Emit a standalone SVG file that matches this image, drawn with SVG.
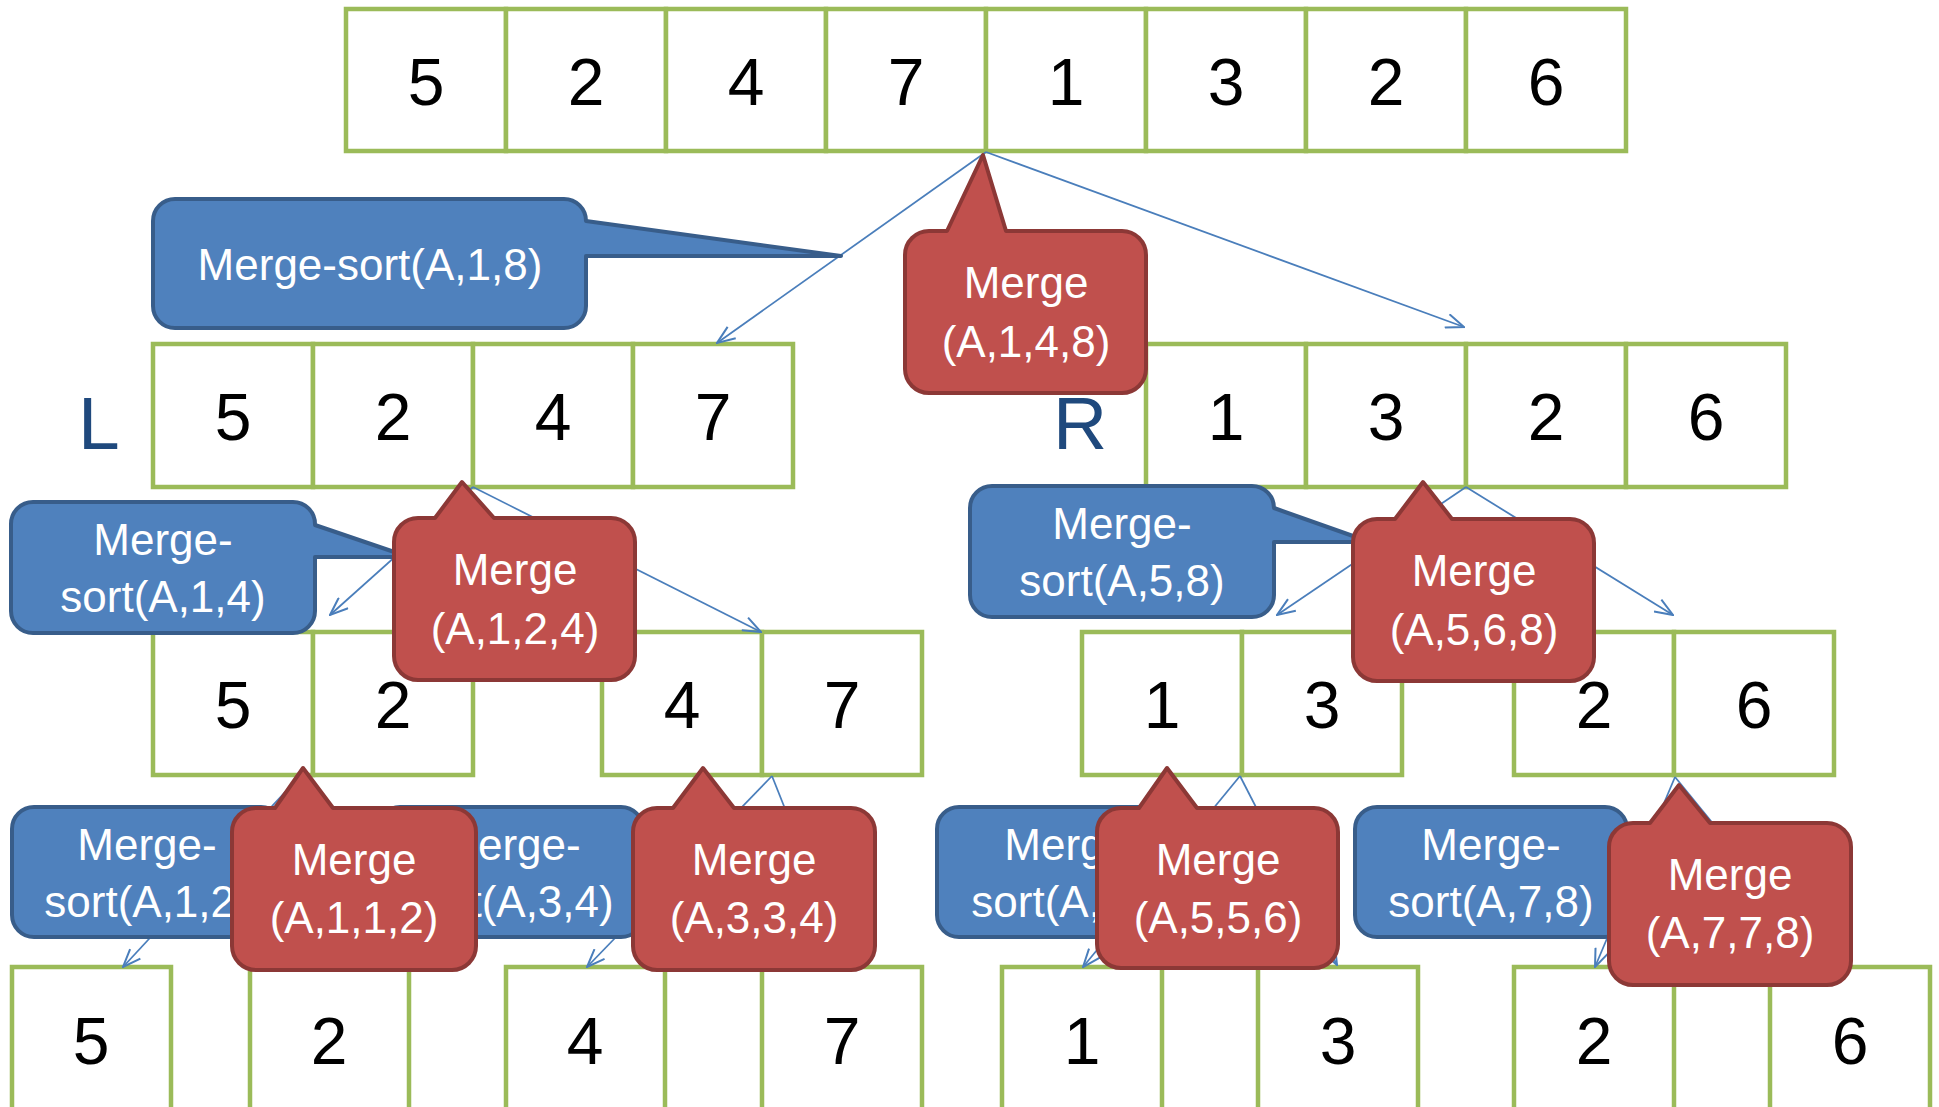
<svg xmlns="http://www.w3.org/2000/svg" width="1939" height="1107" viewBox="0 0 1939 1107">
<defs>
<style>
.cell{fill:#FFFFFF;stroke:#9BBB59;stroke-width:4.5}
.num{font-family:"Liberation Sans",Arial,sans-serif;font-size:66px;fill:#000000;text-anchor:middle}
.lr{font-family:"Liberation Sans",Arial,sans-serif;font-size:75px;fill:#1F497D}
.blue{fill:#4F81BD;stroke:#385D8A;stroke-width:4;stroke-linejoin:round}
.red{fill:#C0504D;stroke:#8C3836;stroke-width:4;stroke-linejoin:round}
.lbl{font-family:"Liberation Sans",Arial,sans-serif;font-size:44px;fill:#FFFFFF;text-anchor:middle}
.conn{fill:none;stroke:#4A7EBB;stroke-width:1.75;marker-end:url(#arr)}
</style>
<marker id="arr" viewBox="0 0 20 16" refX="19" refY="8" markerWidth="20" markerHeight="16" markerUnits="userSpaceOnUse" orient="auto">
<path d="M1,1 L19,8 L1,15" fill="none" stroke="#4A7EBB" stroke-width="2"/>
</marker>
</defs>
<rect width="1939" height="1107" fill="#FFFFFF"/>

<g id="row-top">
<rect class="cell" x="346" y="9" width="160" height="142"/>
<rect class="cell" x="506" y="9" width="160" height="142"/>
<rect class="cell" x="666" y="9" width="160" height="142"/>
<rect class="cell" x="826" y="9" width="160" height="142"/>
<rect class="cell" x="986" y="9" width="160" height="142"/>
<rect class="cell" x="1146" y="9" width="160" height="142"/>
<rect class="cell" x="1306" y="9" width="160" height="142"/>
<rect class="cell" x="1466" y="9" width="160" height="142"/>
<text class="num" x="426" y="105">5</text>
<text class="num" x="586" y="105">2</text>
<text class="num" x="746" y="105">4</text>
<text class="num" x="906" y="105">7</text>
<text class="num" x="1066" y="105">1</text>
<text class="num" x="1226" y="105">3</text>
<text class="num" x="1386" y="105">2</text>
<text class="num" x="1546" y="105">6</text>
</g>

<g id="row-L">
<text class="lr" x="78" y="449">L</text>
<rect class="cell" x="153" y="344" width="160" height="143"/>
<rect class="cell" x="313" y="344" width="160" height="143"/>
<rect class="cell" x="473" y="344" width="160" height="143"/>
<rect class="cell" x="633" y="344" width="160" height="143"/>
<text class="num" x="233" y="440">5</text>
<text class="num" x="393" y="440">2</text>
<text class="num" x="553" y="440">4</text>
<text class="num" x="713" y="440">7</text>
</g>

<g id="row-R">
<text class="lr" x="1053" y="449">R</text>
<rect class="cell" x="1146" y="344" width="160" height="143"/>
<rect class="cell" x="1306" y="344" width="160" height="143"/>
<rect class="cell" x="1466" y="344" width="160" height="143"/>
<rect class="cell" x="1626" y="344" width="160" height="143"/>
<text class="num" x="1226" y="440">1</text>
<text class="num" x="1386" y="440">3</text>
<text class="num" x="1546" y="440">2</text>
<text class="num" x="1706" y="440">6</text>
</g>

<g id="row-52">
<rect class="cell" x="153" y="632" width="160" height="143"/>
<rect class="cell" x="313" y="632" width="160" height="143"/>
<text class="num" x="233" y="728">5</text>
<text class="num" x="393" y="728">2</text>
</g>
<g id="row-47">
<rect class="cell" x="602" y="632" width="160" height="143"/>
<rect class="cell" x="762" y="632" width="160" height="143"/>
<text class="num" x="682" y="728">4</text>
<text class="num" x="842" y="728">7</text>
</g>
<g id="row-13">
<rect class="cell" x="1082" y="632" width="160" height="143"/>
<rect class="cell" x="1242" y="632" width="160" height="143"/>
<text class="num" x="1162" y="728">1</text>
<text class="num" x="1322" y="728">3</text>
</g>
<g id="row-26">
<rect class="cell" x="1514" y="632" width="160" height="143"/>
<rect class="cell" x="1674" y="632" width="160" height="143"/>
<text class="num" x="1594" y="728">2</text>
<text class="num" x="1754" y="728">6</text>
</g>

<g id="leaf-5"><rect class="cell" x="12" y="967" width="159" height="145"/><text class="num" x="91" y="1064">5</text></g>
<g id="leaf-2a"><rect class="cell" x="250" y="967" width="159" height="145"/><text class="num" x="329" y="1064">2</text></g>
<g id="leaf-4"><rect class="cell" x="506" y="967" width="159" height="145"/><text class="num" x="585" y="1064">4</text></g>
<g id="leaf-7"><rect class="cell" x="762" y="967" width="160" height="145"/><text class="num" x="842" y="1064">7</text></g>
<g id="leaf-1"><rect class="cell" x="1002" y="967" width="160" height="145"/><text class="num" x="1082" y="1064">1</text></g>
<g id="leaf-3"><rect class="cell" x="1258" y="967" width="160" height="145"/><text class="num" x="1338" y="1064">3</text></g>
<g id="leaf-2b"><rect class="cell" x="1514" y="967" width="160" height="145"/><text class="num" x="1594" y="1064">2</text></g>
<g id="leaf-6"><rect class="cell" x="1770" y="967" width="160" height="145"/><text class="num" x="1850" y="1064">6</text></g>

<g id="connectors">
<line class="conn" x1="986" y1="152" x2="717" y2="343"/>
<line class="conn" x1="986" y1="152" x2="1464" y2="327"/>
<line class="conn" x1="473" y1="487" x2="330" y2="615"/>
<line class="conn" x1="473" y1="487" x2="761" y2="632"/>
<line class="conn" x1="1466" y1="487" x2="1277" y2="615"/>
<line class="conn" x1="1466" y1="487" x2="1673" y2="615"/>
<line class="conn" x1="300" y1="776" x2="123" y2="967"/>
<line class="conn" x1="305" y1="776" x2="340" y2="967"/>
<line class="conn" x1="772" y1="776" x2="587" y2="967"/>
<line class="conn" x1="772" y1="776" x2="848" y2="967"/>
<line class="conn" x1="1240" y1="776" x2="1083" y2="967"/>
<line class="conn" x1="1240" y1="776" x2="1337" y2="965"/>
<line class="conn" x1="1675" y1="777" x2="1595" y2="967"/>
<line class="conn" x1="1675" y1="777" x2="1830" y2="967"/>
</g>

<g id="ms-1-8">
<path class="blue" d="M175,199 L564,199 A22,22 0 0 1 586,221 L586,221 L841,256 L586,256 L586,306 A22,22 0 0 1 564,328 L175,328 A22,22 0 0 1 153,306 L153,221 A22,22 0 0 1 175,199 Z"/>
<text class="lbl" x="370" y="280">Merge-sort(A,1,8)</text>
</g>
<g id="ms-1-4">
<path class="blue" d="M33,502 L293,502 A22,22 0 0 1 315,524 L315,525 L409,557 L315,557 L315,611 A22,22 0 0 1 293,633 L33,633 A22,22 0 0 1 11,611 L11,524 A22,22 0 0 1 33,502 Z"/>
<text class="lbl" x="163" y="555">Merge-</text>
<text class="lbl" x="163" y="612">sort(A,1,4)</text>
</g>
<g id="ms-5-8">
<path class="blue" d="M992,486 L1252,486 A22,22 0 0 1 1274,508 L1370,542 L1274,542 L1274,595 A22,22 0 0 1 1252,617 L992,617 A22,22 0 0 1 970,595 L970,508 A22,22 0 0 1 992,486 Z"/>
<text class="lbl" x="1122" y="539">Merge-</text>
<text class="lbl" x="1122" y="596">sort(A,5,8)</text>
</g>
<g id="ms-1-2">
<path class="blue" d="M34,807 L261,807 A22,22 0 0 1 283,829 L350,863 L283,863 L283,915 A22,22 0 0 1 261,937 L34,937 A22,22 0 0 1 12,915 L12,829 A22,22 0 0 1 34,807 Z"/>
<text class="lbl" x="147" y="860">Merge-</text>
<text class="lbl" x="147" y="917">sort(A,1,2)</text>
</g>
<g id="ms-3-4">
<path class="blue" d="M400,807 L621,807 A22,22 0 0 1 643,829 L710,863 L643,863 L643,915 A22,22 0 0 1 621,937 L400,937 A22,22 0 0 1 378,915 L378,829 A22,22 0 0 1 400,807 Z"/>
<text class="lbl" x="511" y="860">Merge-</text>
<text class="lbl" x="511" y="917">sort(A,3,4)</text>
</g>
<g id="ms-5-6">
<path class="blue" d="M959,807 L1188,807 A22,22 0 0 1 1210,829 L1280,863 L1210,863 L1210,915 A22,22 0 0 1 1188,937 L959,937 A22,22 0 0 1 937,915 L937,829 A22,22 0 0 1 959,807 Z"/>
<text class="lbl" x="1074" y="860">Merge-</text>
<text class="lbl" x="1074" y="917">sort(A,5,6)</text>
</g>
<g id="ms-7-8">
<path class="blue" d="M1377,807 L1605,807 A22,22 0 0 1 1627,829 L1690,863 L1627,863 L1627,915 A22,22 0 0 1 1605,937 L1377,937 A22,22 0 0 1 1355,915 L1355,829 A22,22 0 0 1 1377,807 Z"/>
<text class="lbl" x="1491" y="860">Merge-</text>
<text class="lbl" x="1491" y="917">sort(A,7,8)</text>
</g>

<g id="m-1-4-8">
<path class="red" d="M929,231 L947,231 L983,155 L1006,231 L1122,231 A24,24 0 0 1 1146,255 L1146,369 A24,24 0 0 1 1122,393 L929,393 A24,24 0 0 1 905,369 L905,255 A24,24 0 0 1 929,231 Z"/>
<text class="lbl" x="1026" y="298">Merge</text>
<text class="lbl" x="1026" y="357">(A,1,4,8)</text>
</g>
<g id="m-1-2-4">
<path class="red" d="M418,518 L435,518 L462,482 L494,518 L611,518 A24,24 0 0 1 635,542 L635,656 A24,24 0 0 1 611,680 L418,680 A24,24 0 0 1 394,656 L394,542 A24,24 0 0 1 418,518 Z"/>
<text class="lbl" x="515" y="585">Merge</text>
<text class="lbl" x="515" y="644">(A,1,2,4)</text>
</g>
<g id="m-5-6-8">
<path class="red" d="M1377,519 L1395,519 L1423,482 L1452,519 L1570,519 A24,24 0 0 1 1594,543 L1594,657 A24,24 0 0 1 1570,681 L1377,681 A24,24 0 0 1 1353,657 L1353,543 A24,24 0 0 1 1377,519 Z"/>
<text class="lbl" x="1474" y="586">Merge</text>
<text class="lbl" x="1474" y="645">(A,5,6,8)</text>
</g>
<g id="m-1-1-2">
<path class="red" d="M256,808 L275,808 L303,768 L333,808 L452,808 A24,24 0 0 1 476,832 L476,946 A24,24 0 0 1 452,970 L256,970 A24,24 0 0 1 232,946 L232,832 A24,24 0 0 1 256,808 Z"/>
<text class="lbl" x="354" y="875">Merge</text>
<text class="lbl" x="354" y="933">(A,1,1,2)</text>
</g>
<g id="m-3-3-4">
<path class="red" d="M657,808 L673,808 L703,768 L734,808 L851,808 A24,24 0 0 1 875,832 L875,946 A24,24 0 0 1 851,970 L657,970 A24,24 0 0 1 633,946 L633,832 A24,24 0 0 1 657,808 Z"/>
<text class="lbl" x="754" y="875">Merge</text>
<text class="lbl" x="754" y="933">(A,3,3,4)</text>
</g>
<g id="m-5-5-6">
<path class="red" d="M1121,808 L1139,808 L1167,768 L1197,808 L1314,808 A24,24 0 0 1 1338,832 L1338,944 A24,24 0 0 1 1314,968 L1121,968 A24,24 0 0 1 1097,944 L1097,832 A24,24 0 0 1 1121,808 Z"/>
<text class="lbl" x="1218" y="875">Merge</text>
<text class="lbl" x="1218" y="933">(A,5,5,6)</text>
</g>
<g id="m-7-7-8">
<path class="red" d="M1633,823 L1650,823 L1679,785 L1710,823 L1827,823 A24,24 0 0 1 1851,847 L1851,961 A24,24 0 0 1 1827,985 L1633,985 A24,24 0 0 1 1609,961 L1609,847 A24,24 0 0 1 1633,823 Z"/>
<text class="lbl" x="1730" y="890">Merge</text>
<text class="lbl" x="1730" y="948">(A,7,7,8)</text>
</g>
</svg>
